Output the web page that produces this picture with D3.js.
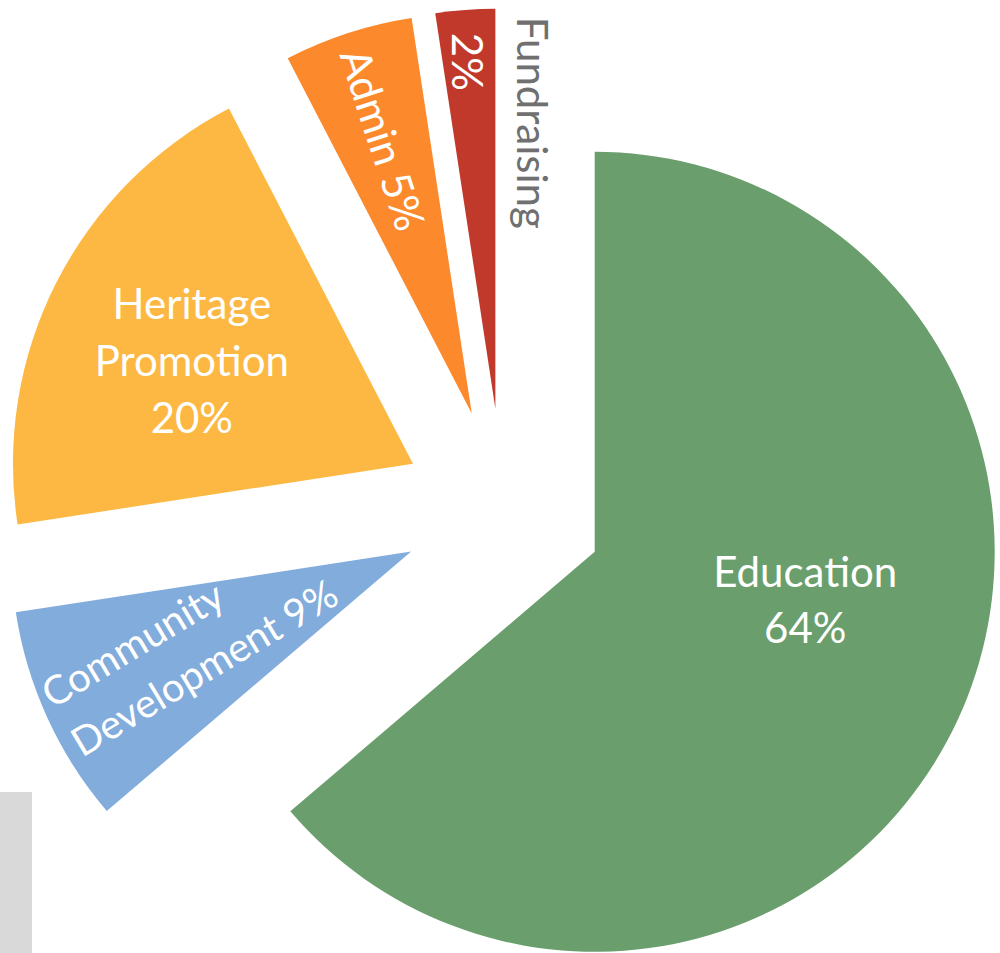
<!DOCTYPE html>
<html>
<head>
<meta charset="utf-8">
<script src="https://cdn.jsdelivr.net/npm/d3@7"></script>
<style>
  body { margin: 0; background: #fff; }
  text { font-family: Lato, "Open Sans", sans-serif; }
</style>
</head>
<body>
<div class="pie"></div>
<script>
let categories = ['Education', 'Community Development', 'Heritage Promotion', 'Admin', 'Fundraising']
let values = [63.7, 8.8, 19.8, 5.2, 2.4]
let colors = ['#6a9f6d', '#82acdb', '#fdb843', '#fd892d', '#c0392b']

let width = 1000
let height = 953
let radius = 400
let explode = 101
let cx = 503, cy = 509.5

// label placement per slice: distance / angle from the slice tip, rotation, line layout
let labelSetup = [
  { lines: (n, p) => ['Education', p], r: 216, angle: 102.9, rot: 0, anchor: 'middle', lh: 56 },
  { lines: (n, p) => ['Community', 'Development ' + p], r: 240, angle: 247.5, rot: -31, anchor: 'start', lh: 57, size: 40 },
  { lines: (n, p) => ['Heritage', 'Promotion', p], r: 244, angle: 295, rot: 0, anchor: 'middle', lh: 57 },
  { lines: (n, p) => [n + ' ' + p], r: 288, angle: null, rot: 'radial', anchor: 'middle', lh: 56 },
  { lines: (n, p) => [n, p], r: 286, angle: 0.8, rot: 90, anchor: 'start', lh: 65,
    fills: ['#707070', '#fff'], dx: [0, 16] }
]

let svg = d3.select('.pie')
  .append('svg')
  .attr('width', width)
  .attr('height', height)

// grey block at lower left
svg.append('rect')
  .attr('x', 0).attr('y', 792)
  .attr('width', 32).attr('height', height - 792)
  .attr('fill', '#d9d9d9')

let pie = d3.pie().sort(null).value(d => d)
let arcs = pie(values)
let total = d3.sum(values)
let pct = d3.format('.0%')

let arc = d3.arc().innerRadius(0).outerRadius(radius)
let polar = (r, a) => [r * Math.sin(a), -r * Math.cos(a)]
let rad = d => d * Math.PI / 180

let slices = svg.selectAll('g.slice')
  .data(arcs)
  .enter()
  .append('g')
  .attr('class', 'slice')
  .attr('transform', d => {
    let mid = (d.startAngle + d.endAngle) / 2
    let o = polar(explode, mid)
    return `translate(${cx + o[0]}, ${cy + o[1]})`
  })

slices.append('path')
  .attr('d', arc)
  .attr('fill', (d, i) => colors[i])

slices.each(function (d, i) {
  let s = labelSetup[i]
  let mid = (d.startAngle + d.endAngle) / 2
  let a = s.angle == null ? mid : rad(s.angle)
  let p = polar(s.r, a)
  let rot = s.rot === 'radial' ? mid * 180 / Math.PI - 270 : s.rot
  let lines = s.lines(categories[i], pct(d.value / total))

  let g = d3.select(this).append('g')
    .attr('transform', `translate(${p[0]}, ${p[1]}) rotate(${rot})`)

  let texts = lines.map((t, j) => g.append('text')
    .attr('text-anchor', s.anchor)
    .attr('y', (j - (lines.length - 1) / 2) * s.lh)
    .attr('dy', '0.36em')
    .attr('font-size', s.size || 42)
    .attr('fill', s.fills ? s.fills[j] : '#fff')
    .text(t))

  if (s.anchor === 'start') {
    let w = d3.max(texts, t => t.node().getComputedTextLength())
    texts.forEach((t, j) => t.attr('x', -w / 2 + (s.dx ? s.dx[j] : 0)))
  }
})
</script>
</body>
</html>
